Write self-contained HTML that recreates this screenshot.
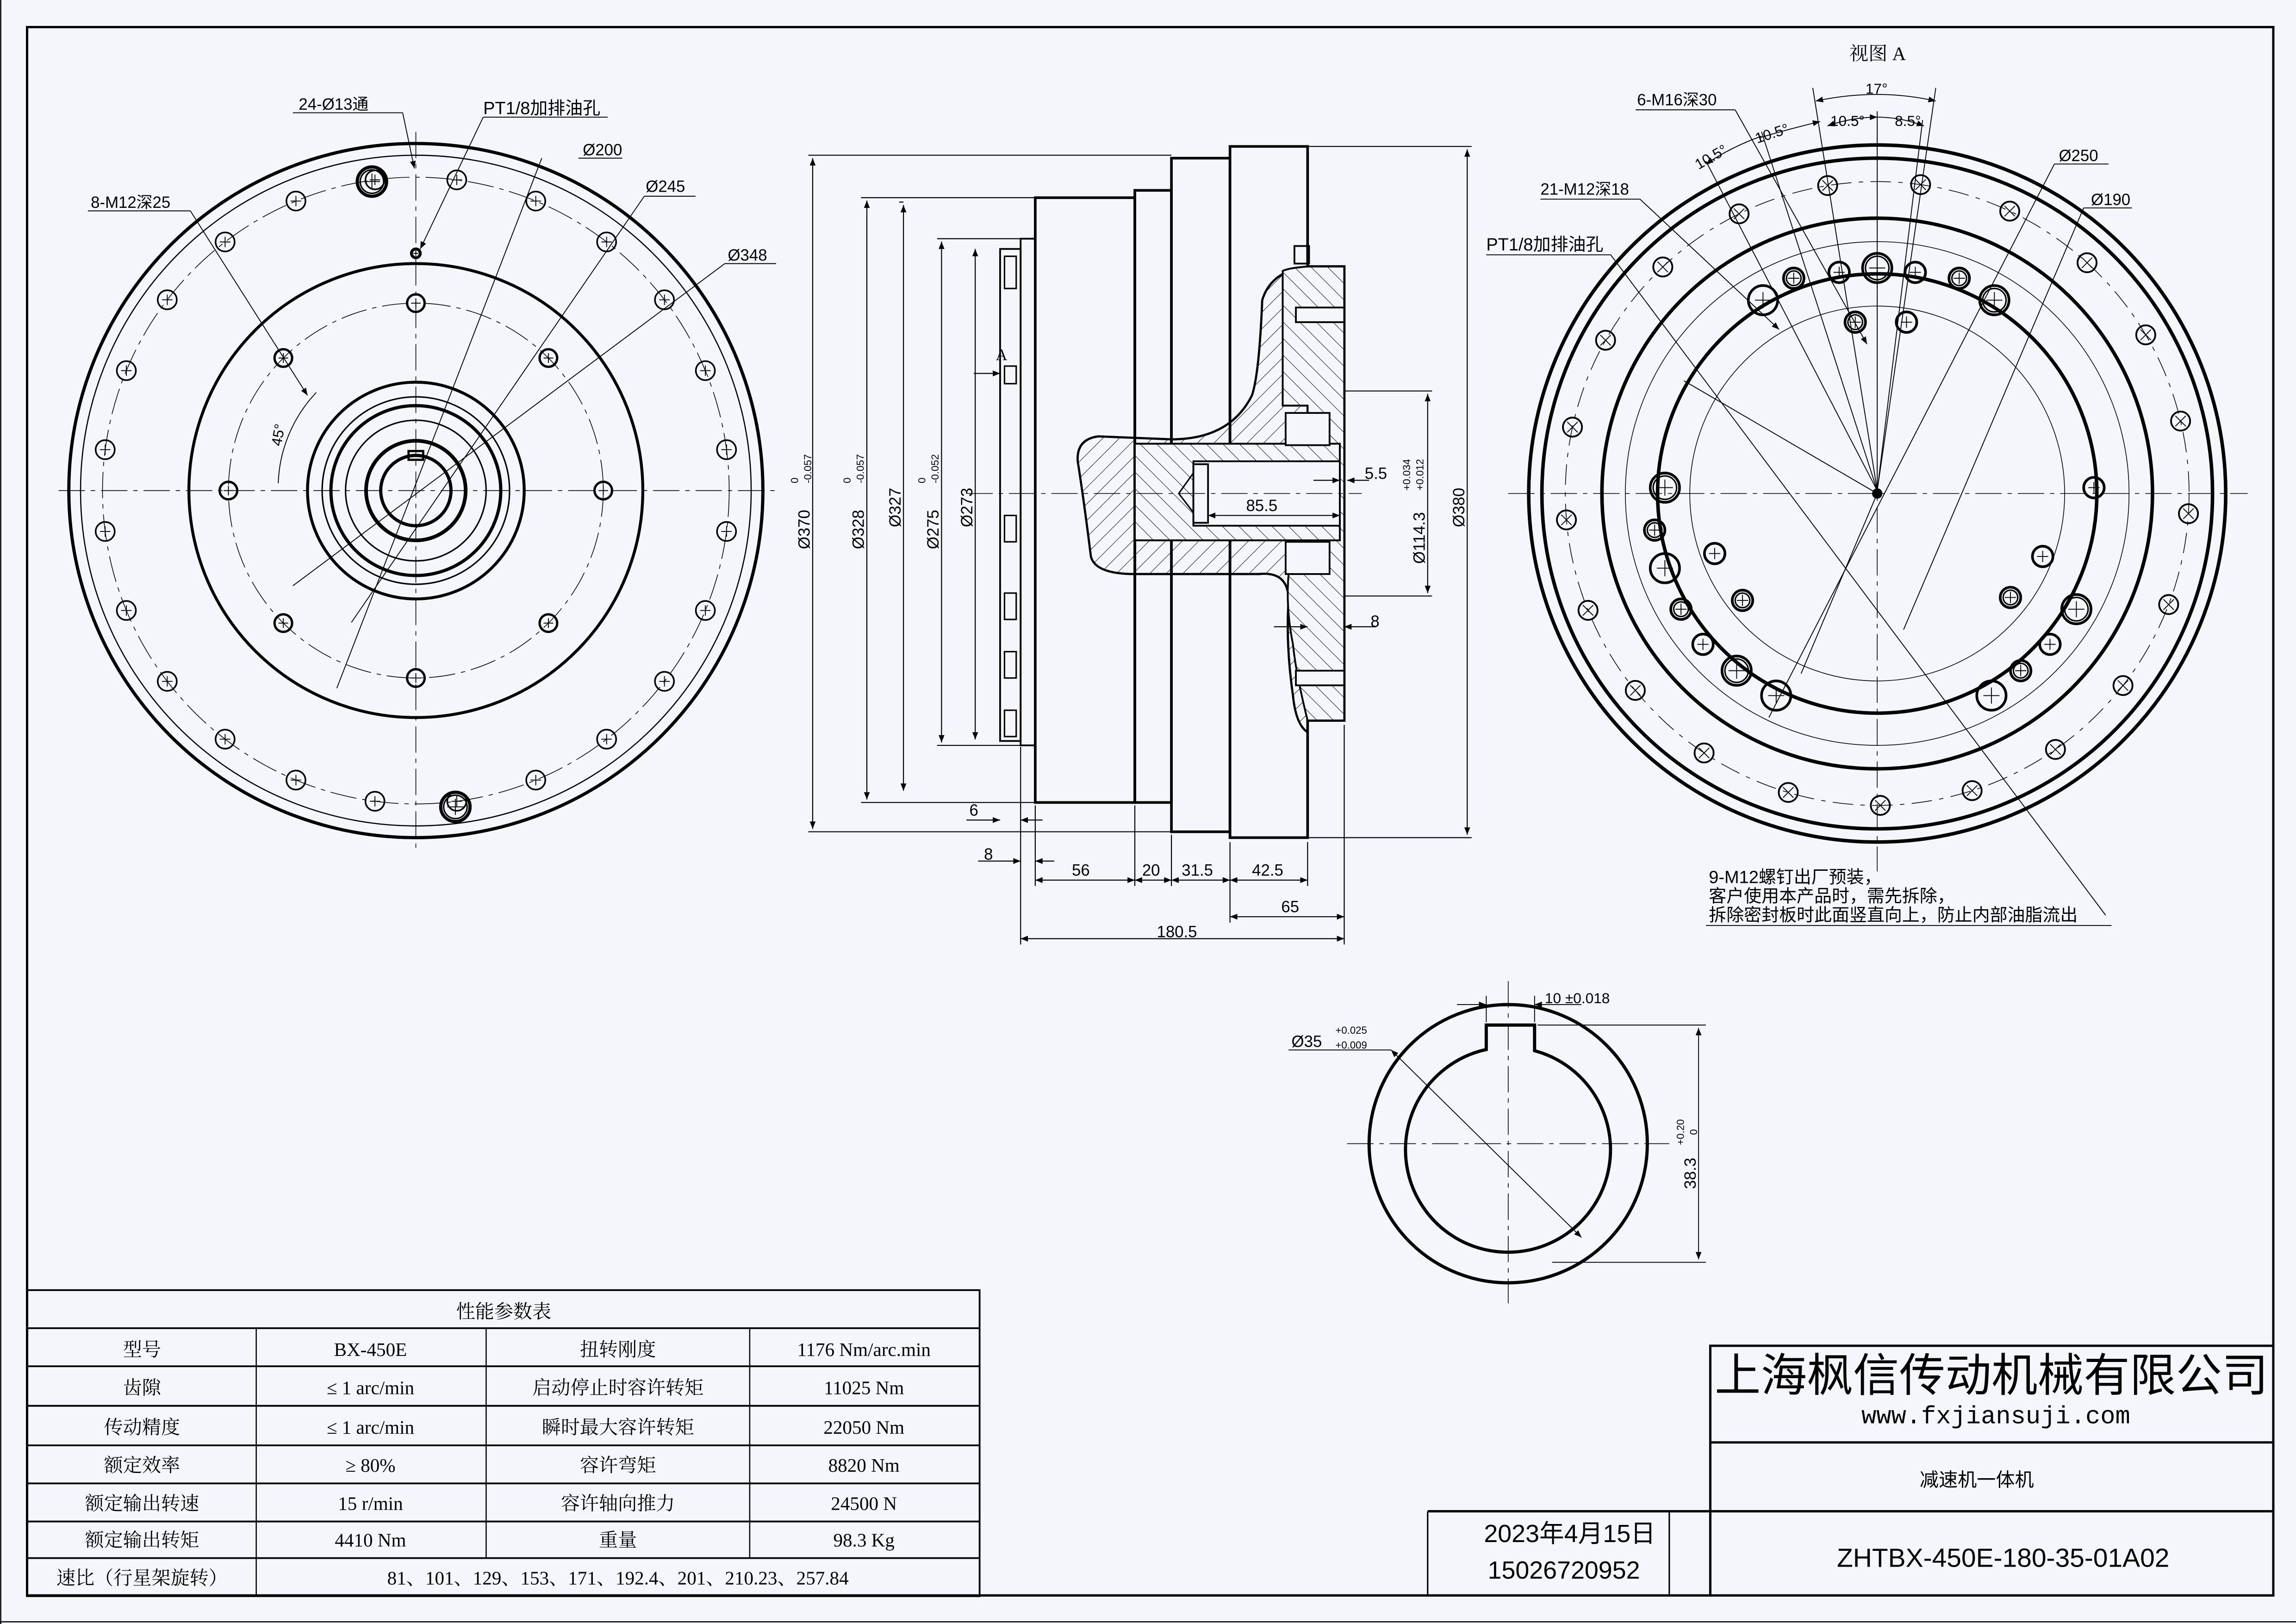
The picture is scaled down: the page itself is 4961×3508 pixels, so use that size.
<!DOCTYPE html>
<html><head><meta charset="utf-8"><style>
html,body{margin:0;padding:0;background:#f4f6fc;}
svg{display:block}
text{font-family:"Liberation Sans","Noto Sans CJK SC",sans-serif;fill:#000}
.s{font-family:"Liberation Serif","Noto Serif CJK SC",serif}
</style></head><body>
<svg id="g" width="4961" height="3508" viewBox="0 0 1568 1109" preserveAspectRatio="none" xmlns="http://www.w3.org/2000/svg">
<defs>
<pattern id="h" width="8" height="8" patternUnits="userSpaceOnUse" patternTransform="rotate(45)"><line x1="0" y1="0" x2="0" y2="8" stroke="#000" stroke-width="0.6"/></pattern>
<pattern id="h2" width="8" height="8" patternUnits="userSpaceOnUse" patternTransform="rotate(-45)"><line x1="0" y1="0" x2="0" y2="8" stroke="#000" stroke-width="0.6"/></pattern>
<marker id="a" viewBox="0 0 10 10" refX="10" refY="5" markerWidth="8" markerHeight="5" orient="auto-start-reverse" markerUnits="userSpaceOnUse"><path d="M0,1 L10,5 L0,9 z" fill="#000"/></marker>
</defs>
<rect x="0" y="0" width="1568" height="1109" fill="#f4f6fc"/>
<rect x="18.5" y="18.5" width="1534" height="1071" fill="none" stroke="#000" stroke-width="1.6"/>
<line x1="0" y1="1107.5" x2="1568" y2="1107.5" stroke="#000" stroke-width="0.8"/>
<line x1="0.5" y1="0" x2="0.5" y2="1109" stroke="#000" stroke-width="0.8"/>

<g id="L" fill="none" stroke="#000">
 <line x1="40" y1="335" x2="530" y2="335" stroke-width="0.5" stroke-dasharray="18 4 3 4"/>
 <line x1="284" y1="90" x2="284" y2="580" stroke-width="0.5" stroke-dasharray="18 4 3 4"/>
 <circle cx="284" cy="335" r="237" stroke-width="2.2"/>
 <circle cx="284" cy="335" r="229" stroke-width="0.8"/>
 <circle cx="284" cy="335" r="214" stroke-width="0.5" stroke-dasharray="18 4 3 4"/>
 <circle cx="284" cy="335" r="155" stroke-width="2"/>
 <circle cx="284" cy="335" r="128" stroke-width="0.5" stroke-dasharray="18 4 3 4"/>
 <circle cx="284" cy="335" r="74" stroke-width="2"/>
 <circle cx="284" cy="335" r="64" stroke-width="1"/>
 <circle cx="284" cy="335" r="58" stroke-width="2.2"/>
 <circle cx="284" cy="335" r="48" stroke-width="1"/>
 <circle cx="284" cy="335" r="34" stroke-width="2.5"/>
 <circle cx="284" cy="335" r="24" stroke-width="2.2"/>
 <rect x="279" y="308" width="10" height="6" stroke-width="1.5"/>
</g>
<g id="R" fill="none" stroke="#000">
 <line x1="1030" y1="337" x2="1535" y2="337" stroke-width="0.5" stroke-dasharray="18 4 3 4"/>
 <line x1="1282" y1="85" x2="1282" y2="595" stroke-width="0.5" stroke-dasharray="18 4 3 4"/>
 <circle cx="1282" cy="337" r="238" stroke-width="2.4"/>
 <circle cx="1282" cy="337" r="229" stroke-width="2.4"/>
 <circle cx="1282" cy="337" r="213" stroke-width="0.5" stroke-dasharray="14 5 3 5"/>
 <circle cx="1282" cy="337" r="188" stroke-width="2.4"/>
 <circle cx="1282" cy="337" r="172" stroke-width="0.5"/>
 <circle cx="1282" cy="337" r="150" stroke-width="2.4"/>
 <circle cx="1282" cy="337" r="128" stroke-width="0.5"/>
 <circle cx="1282" cy="337" r="3" fill="#000"/>
</g>
<g id="M" fill="none" stroke="#000" stroke-width="1.8">
 <rect x="683" y="170" width="14" height="336" stroke-width="1.2"/>
 <rect x="697" y="163" width="10" height="346" stroke-width="1.2"/>
 <rect x="707" y="135" width="68" height="413"/>
 <rect x="775" y="130" width="25" height="418"/>
 <rect x="800" y="108" width="40" height="460"/>
 <path d="M840,100 L893,100 L893,182 L918,182 L918,492 L893,492 L893,572 L840,572 Z"/>
 <path d="M893,182 Q868,185 862,205 Q860,255 855,270 Q840,300 800,300 L750,298 Q735,300 736,315 Q740,340 745,380 Q748,392 775,392 L860,392 Q880,390 880,410 Q878,440 883,475 Q885,495 893,500 Z" fill="url(#h)" stroke-width="1.5"/>
 <path d="M893,182 L918,182 L918,492 L893,492 Q885,460 883,440 Q878,415 880,392 L893,392 L893,277 L876,277 L876,185 Q880,183 893,182 Z" fill="#f4f6fc" stroke-width="1.2"/>
 <path d="M893,182 L918,182 L918,492 L893,492 Q885,460 883,440 Q878,415 880,392 L893,392 L893,277 L876,277 L876,185 Q880,183 893,182 Z" fill="url(#h2)" stroke-width="1.2"/>
 <rect x="775" y="303" width="140" height="66" fill="#f4f6fc" stroke-width="1.2"/>
 <rect x="775" y="303" width="140" height="66" fill="url(#h2)" stroke-width="1.2"/>
 <rect x="815" y="315" width="100" height="44" fill="#f4f6fc" stroke-width="1.2"/>
 <rect x="815" y="317" width="10" height="40" stroke-width="1.2"/>
 <path d="M815,323 L805,337 L815,350" stroke-width="1"/>
 <rect x="878" y="282" width="30" height="22" fill="#f4f6fc" stroke-width="1.2"/>
 <rect x="878" y="370" width="30" height="22" fill="#f4f6fc" stroke-width="1.2"/>
 <rect x="885" y="210" width="33" height="10" fill="#f4f6fc" stroke-width="1.2"/>
 <rect x="885" y="458" width="33" height="10" fill="#f4f6fc" stroke-width="1.2"/>
 <rect x="884" y="168" width="10" height="12" stroke-width="1.2"/>
 <line x1="660" y1="337" x2="930" y2="337" stroke-width="0.5" stroke-dasharray="18 4 3 4"/>
 <g stroke-width="1"><rect x="686" y="175" width="8" height="22"/><rect x="686" y="250" width="8" height="12"/><rect x="686" y="352" width="8" height="18"/><rect x="686" y="405" width="8" height="18"/><rect x="686" y="445" width="8" height="18"/><rect x="686" y="485" width="8" height="18"/></g>
</g>
<g fill="none" stroke="#000" stroke-width="0.7">
 <line x1="552" y1="106" x2="800" y2="106"/><line x1="552" y1="568" x2="800" y2="568"/>
 <line x1="555" y1="108" x2="555" y2="566" marker-start="url(#a)" marker-end="url(#a)"/>
 <line x1="588" y1="135" x2="707" y2="135"/><line x1="588" y1="548" x2="707" y2="548"/>
 <line x1="592" y1="137" x2="592" y2="546" marker-start="url(#a)" marker-end="url(#a)"/>
 <line x1="614" y1="138" x2="617" y2="138"/><line x1="617" y1="140" x2="617" y2="540" marker-start="url(#a)" marker-end="url(#a)"/>
 <line x1="640" y1="163" x2="697" y2="163"/><line x1="640" y1="509" x2="697" y2="509"/>
 <line x1="643" y1="165" x2="643" y2="507" marker-start="url(#a)" marker-end="url(#a)"/>
 <line x1="666" y1="170" x2="666" y2="505" marker-start="url(#a)" marker-end="url(#a)"/>
 <line x1="665" y1="255" x2="683" y2="255" marker-end="url(#a)"/>
 <line x1="893" y1="100" x2="1005" y2="100"/><line x1="893" y1="572" x2="1005" y2="572"/>
 <line x1="1002" y1="102" x2="1002" y2="570" marker-start="url(#a)" marker-end="url(#a)"/>
 <line x1="918" y1="267" x2="978" y2="267"/><line x1="918" y1="407" x2="978" y2="407"/>
 <line x1="975" y1="269" x2="975" y2="405" marker-start="url(#a)" marker-end="url(#a)"/>
 <line x1="897" y1="328" x2="915" y2="328" marker-end="url(#a)"/><line x1="935" y1="328" x2="920" y2="328" marker-end="url(#a)"/>
 <line x1="825" y1="352" x2="915" y2="352" marker-start="url(#a)" marker-end="url(#a)"/>
 <line x1="870" y1="428" x2="893" y2="428" marker-end="url(#a)"/><line x1="940" y1="428" x2="918" y2="428" marker-end="url(#a)"/>
 <line x1="697" y1="510" x2="697" y2="645"/><line x1="707" y1="550" x2="707" y2="605"/>
 <line x1="775" y1="550" x2="775" y2="605"/><line x1="800" y1="570" x2="800" y2="605"/>
 <line x1="840" y1="575" x2="840" y2="630"/><line x1="893" y1="575" x2="893" y2="605"/><line x1="918" y1="495" x2="918" y2="645"/>
 <line x1="660" y1="560" x2="683" y2="560" marker-end="url(#a)"/><line x1="712" y1="560" x2="697" y2="560" marker-end="url(#a)"/>
 <line x1="668" y1="588" x2="697" y2="588" marker-end="url(#a)"/><line x1="720" y1="588" x2="707" y2="588" marker-end="url(#a)"/>
 <line x1="707" y1="601" x2="775" y2="601" marker-start="url(#a)" marker-end="url(#a)"/>
 <line x1="775" y1="601" x2="800" y2="601" marker-start="url(#a)" marker-end="url(#a)"/>
 <line x1="800" y1="601" x2="840" y2="601" marker-start="url(#a)" marker-end="url(#a)"/>
 <line x1="840" y1="601" x2="893" y2="601" marker-start="url(#a)" marker-end="url(#a)"/>
 <line x1="840" y1="626" x2="918" y2="626" marker-start="url(#a)" marker-end="url(#a)"/>
 <line x1="697" y1="641" x2="918" y2="641" marker-start="url(#a)" marker-end="url(#a)"/>
</g>
<g font-size="11" class="s">
 <text x="680" y="246" class="s">A</text>
 <text x="932" y="327">5.5</text><text x="851" y="349">85.5</text><text x="936" y="428">8</text>
 <text x="662" y="557">6</text><text x="672" y="587">8</text><text x="732" y="598">56</text><text x="780" y="598">20</text>
 <text x="807" y="598">31.5</text><text x="855" y="598">42.5</text><text x="875" y="623">65</text><text x="790" y="640">180.5</text>
</g>
<g font-size="11">
 <text transform="translate(553,375) rotate(-90)">Ø370</text><text font-size="7" transform="translate(545,330) rotate(-90)">0</text><text font-size="7" transform="translate(554,330) rotate(-90)">-0.057</text>
 <text transform="translate(590,375) rotate(-90)">Ø328</text><text font-size="7" transform="translate(581,330) rotate(-90)">0</text><text font-size="7" transform="translate(590,330) rotate(-90)">-0.057</text>
 <text transform="translate(615,360) rotate(-90)">Ø327</text>
 <text transform="translate(641,375) rotate(-90)">Ø275</text><text font-size="7" transform="translate(632,330) rotate(-90)">0</text><text font-size="7" transform="translate(641,330) rotate(-90)">-0.052</text>
 <text transform="translate(664,360) rotate(-90)">Ø273</text>
 <text transform="translate(1000,360) rotate(-90)">Ø380</text>
 <text transform="translate(973,385) rotate(-90)">Ø114.3</text><text font-size="7" transform="translate(963,335) rotate(-90)">+0.034</text><text font-size="7" transform="translate(972,335) rotate(-90)">+0.012</text>
</g>
<g fill="none" stroke="#000" stroke-width="0.6">
 <line x1="200" y1="77" x2="275" y2="77"/><line x1="275" y1="77" x2="283" y2="115" marker-end="url(#a)"/>
 <line x1="330" y1="80" x2="415" y2="80"/><line x1="330" y1="80" x2="287" y2="170" marker-end="url(#a)"/>
 <line x1="395" y1="108" x2="425" y2="108"/><line x1="370" y1="108" x2="230" y2="470"/>
 <line x1="440" y1="134" x2="475" y2="134"/><line x1="440" y1="134" x2="240" y2="425"/>
 <line x1="495" y1="180" x2="530" y2="180"/><line x1="495" y1="180" x2="200" y2="400"/>
 <line x1="60" y1="144" x2="130" y2="144"/><line x1="130" y1="144" x2="210" y2="270" marker-end="url(#a)"/>
 <path d="M190,330 A95,95 0 0 1 216,268"/>
</g>
<g font-size="11">
 <text x="204" y="75">24-Ø13通</text>
 <text x="330" y="78" font-size="12">PT1/8加排油孔</text>
 <text x="398" y="106">Ø200</text><text x="441" y="131">Ø245</text><text x="497" y="178">Ø348</text>
 <text x="62" y="142">8-M12深25</text>
 <text transform="translate(192,305) rotate(-80)" font-size="10">45°</text>
</g>
<g fill="none" stroke="#000" stroke-width="0.6">
 <line x1="1117" y1="75" x2="1185" y2="75"/><line x1="1185" y1="75" x2="1275" y2="235" marker-end="url(#a)"/>
 <line x1="1052" y1="136" x2="1120" y2="136"/><line x1="1120" y1="136" x2="1215" y2="225" marker-end="url(#a)"/>
 <line x1="1015" y1="174" x2="1100" y2="174"/><line x1="1100" y1="174" x2="1438" y2="625"/>
 <line x1="1403" y1="112" x2="1440" y2="112"/><line x1="1403" y1="112" x2="1208" y2="490"/>
 <line x1="1423" y1="142" x2="1456" y2="142"/><line x1="1423" y1="142" x2="1300" y2="430"/>
 <path d="M1240,69 Q1282,60 1322,69" marker-start="url(#a)" marker-end="url(#a)"/>
 <path d="M1248,86 Q1265,80 1282,80" marker-start="url(#a)" marker-end="url(#a)"/>
 <path d="M1282,80 Q1298,80 1314,86" marker-end="url(#a)"/>
 <path d="M1202,94 Q1222,88 1243,83" marker-end="url(#a)"/>
 <path d="M1165,112 Q1183,100 1203,93" marker-start="url(#a)"/>
 <line x1="1238" y1="60" x2="1282" y2="335"/><line x1="1322" y1="60" x2="1282" y2="335"/>
 <line x1="1165" y1="110" x2="1282" y2="335"/><line x1="1203" y1="90" x2="1282" y2="335"/>
 <line x1="1282" y1="76" x2="1282" y2="335"/><line x1="1313" y1="82" x2="1282" y2="335"/>
 <line x1="1150" y1="260" x2="1282" y2="337"/><line x1="1282" y1="337" x2="1230" y2="460"/>
 <line x1="1165" y1="632" x2="1442" y2="632"/>
</g>
<g font-size="11">
 <text x="1263" y="41" class="s" font-size="13">视图 A</text>
 <text x="1118" y="72">6-M16深30</text><text x="1052" y="133">21-M12深18</text><text x="1015" y="171" font-size="12">PT1/8加排油孔</text>
 <text x="1406" y="110">Ø250</text><text x="1428" y="140">Ø190</text>
 <text x="1274" y="64" font-size="10">17°</text><text x="1250" y="86" font-size="10">10.5°</text><text x="1294" y="86" font-size="10">8.5°</text>
 <text transform="translate(1200,98) rotate(-18)" font-size="10">10.5°</text><text transform="translate(1160,116) rotate(-30)" font-size="10">10.5°</text>
 <text x="1167" y="603" font-size="12">9-M12螺钉出厂预装，</text>
 <text x="1167" y="616" font-size="12">客户使用本产品时，需先拆除，</text>
 <text x="1167" y="629" font-size="12">拆除密封板时此面竖直向上，防止内部油脂流出</text>
</g>
<g fill="none" stroke="#000">
 <circle cx="1030" cy="781" r="95" stroke-width="2.2"/>
 <path d="M1015,716.7 L1015,700 L1048,700 L1048,717.5 A70,70 0 1 1 1015,716.7 Z" stroke-width="2.2"/>
 <line x1="920" y1="781" x2="1140" y2="781" stroke-width="0.5" stroke-dasharray="18 4 3 4"/>
 <line x1="1030" y1="670" x2="1030" y2="890" stroke-width="0.5" stroke-dasharray="18 4 3 4"/>
 <g stroke-width="0.6">
 <line x1="1015" y1="698" x2="1015" y2="680"/><line x1="1048" y1="698" x2="1048" y2="680"/>
 <line x1="995" y1="686" x2="1015" y2="686" marker-end="url(#a)"/><line x1="1048" y1="686" x2="1080" y2="686" marker-start="url(#a)"/>
 <line x1="880" y1="717" x2="950" y2="717"/><line x1="950" y1="717" x2="1080" y2="845" marker-start="url(#a)" marker-end="url(#a)"/>
 <line x1="1050" y1="700" x2="1165" y2="700"/><line x1="1060" y1="862" x2="1165" y2="862"/>
 <line x1="1160" y1="702" x2="1160" y2="860" marker-start="url(#a)" marker-end="url(#a)"/>
 </g>
</g>
<g font-size="10">
 <text x="1055" y="685">10 ±0.018</text>
 <text x="882" y="715" font-size="11">Ø35</text><text x="912" y="706" font-size="7">+0.025</text><text x="912" y="716" font-size="7">+0.009</text>
 <text transform="translate(1158,812) rotate(-90)" font-size="11">38.3</text><text font-size="7" transform="translate(1150,782) rotate(-90)">+0.20</text><text font-size="7" transform="translate(1159,775) rotate(-90)">0</text>
</g>
<g fill="none" stroke="#000" stroke-width="1.2">
 <rect x="18.5" y="881" width="650.5" height="209"/>
 <line x1="18.5" y1="907" x2="669" y2="907"/><line x1="18.5" y1="933" x2="669" y2="933"/><line x1="18.5" y1="960" x2="669" y2="960"/>
 <line x1="18.5" y1="987" x2="669" y2="987"/><line x1="18.5" y1="1013" x2="669" y2="1013"/><line x1="18.5" y1="1039" x2="669" y2="1039"/><line x1="18.5" y1="1064" x2="669" y2="1064"/>
 <g stroke-width="0.8"><line x1="175" y1="907" x2="175" y2="1090"/><line x1="332" y1="907" x2="332" y2="1064"/><line x1="512" y1="907" x2="512" y2="1064"/></g>
</g>
<g class="s" font-size="13" text-anchor="middle">
 <text x="344" y="900" class="s">性能参数表</text>
 <text x="97" y="926" class="s">型号</text><text x="253" y="926" class="s">BX-450E</text><text x="422" y="926" class="s">扭转刚度</text><text x="590" y="926" class="s">1176 Nm/arc.min</text>
 <text x="97" y="952" class="s">齿隙</text><text x="253" y="952" class="s">≤ 1 arc/min</text><text x="422" y="952" class="s">启动停止时容许转矩</text><text x="590" y="952" class="s">11025 Nm</text>
 <text x="97" y="979" class="s">传动精度</text><text x="253" y="979" class="s">≤ 1 arc/min</text><text x="422" y="979" class="s">瞬时最大容许转矩</text><text x="590" y="979" class="s">22050 Nm</text>
 <text x="97" y="1005" class="s">额定效率</text><text x="253" y="1005" class="s">≥ 80%</text><text x="422" y="1005" class="s">容许弯矩</text><text x="590" y="1005" class="s">8820 Nm</text>
 <text x="97" y="1031" class="s">额定输出转速</text><text x="253" y="1031" class="s">15 r/min</text><text x="422" y="1031" class="s">容许轴向推力</text><text x="590" y="1031" class="s">24500 N</text>
 <text x="97" y="1056" class="s">额定输出转矩</text><text x="253" y="1056" class="s">4410 Nm</text><text x="422" y="1056" class="s">重量</text><text x="590" y="1056" class="s">98.3 Kg</text>
 <text x="97" y="1082" class="s">速比（行星架旋转）</text><text x="422" y="1082" class="s">81、101、129、153、171、192.4、201、210.23、257.84</text>
</g>
<g fill="none" stroke="#000" stroke-width="1.6">
 <path d="M1168,1090 L1168,919 L1553,919"/>
 <line x1="1168" y1="985" x2="1553" y2="985"/>
 <line x1="975" y1="1032" x2="1553" y2="1032"/>
 <line x1="975" y1="1032" x2="975" y2="1090" stroke-width="1"/>
 <line x1="1140" y1="1032" x2="1140" y2="1090" stroke-width="1"/>
</g>
<text x="1360" y="950" font-size="31" text-anchor="middle" textLength="378" lengthAdjust="spacingAndGlyphs">上海枫信传动机械有限公司</text>
<text x="1363" y="972" font-size="17" text-anchor="middle" style="font-family:'Liberation Mono',monospace">www.fxjiansuji.com</text>
<text x="1350" y="1015" font-size="13" text-anchor="middle">减速机一体机</text>
<text x="1072" y="1053" font-size="17" text-anchor="middle">2023年4月15日</text>
<text x="1068" y="1078" font-size="17" text-anchor="middle">15026720952</text>
<text x="1368" y="1070" font-size="18" text-anchor="middle">ZHTBX-450E-180-35-01A02</text>
<g id="holes" fill="none" stroke="#000"></g>
</svg>
<script>
var NS="http://www.w3.org/2000/svg",H=document.getElementById("holes");
function el(t,a){var e=document.createElementNS(NS,t);for(var k in a)e.setAttribute(k,a[k]);H.appendChild(e);return e;}
function hole(x,y,r,w,mark,dbl){el("circle",{cx:x,cy:y,r:r,"stroke-width":w||1.3});
 if(dbl)el("circle",{cx:x,cy:y,r:r-2,"stroke-width":1});
 var m=r*0.55;
 if(mark=="x"){el("line",{x1:x-m,y1:y-m,x2:x+m,y2:y+m,"stroke-width":0.6});el("line",{x1:x-m,y1:y+m,x2:x+m,y2:y-m,"stroke-width":0.6});}
 else{el("line",{x1:x-m,y1:y,x2:x+m,y2:y,"stroke-width":0.6});el("line",{x1:x,y1:y-m,x2:x,y2:y+m,"stroke-width":0.6});}}
var i,a;
for(i=0;i<24;i++){a=i*Math.PI/12+Math.PI/24;hole(284+214*Math.cos(a),335+214*Math.sin(a),6.5,1.1);}
for(i=0;i<8;i++){a=i*Math.PI/4;hole(284+128*Math.cos(a),335+128*Math.sin(a),6,1.6);}
hole(254,124,10,2.2,"+",true);hole(311,551,10,2.2,"+",true);hole(284,173,3,2,"+");
for(i=0;i<21;i++){a=-Math.PI/2+(i*360/21+8)*Math.PI/180;hole(1282+213*Math.cos(a),337+213*Math.sin(a),6.5,1.2,"x");}
var P=[[1137,333],[1430,333],[1130,362],[1137,388],[1148,416],[1163,440],[1186,458],[1171,378],[1190,410],[1213,475],[1380,458],[1400,440],[1418,416],[1395,380],[1373,408],[1360,475],[1225,190],[1256,186],[1282,183],[1308,186],[1338,190],[1204,205],[1267,220],[1302,220],[1362,205]];
P.forEach(function(p,j){hole(p[0],p[1],j%3==0?10:7,1.8,"+",j%2==0);});
</script>
</body></html>
